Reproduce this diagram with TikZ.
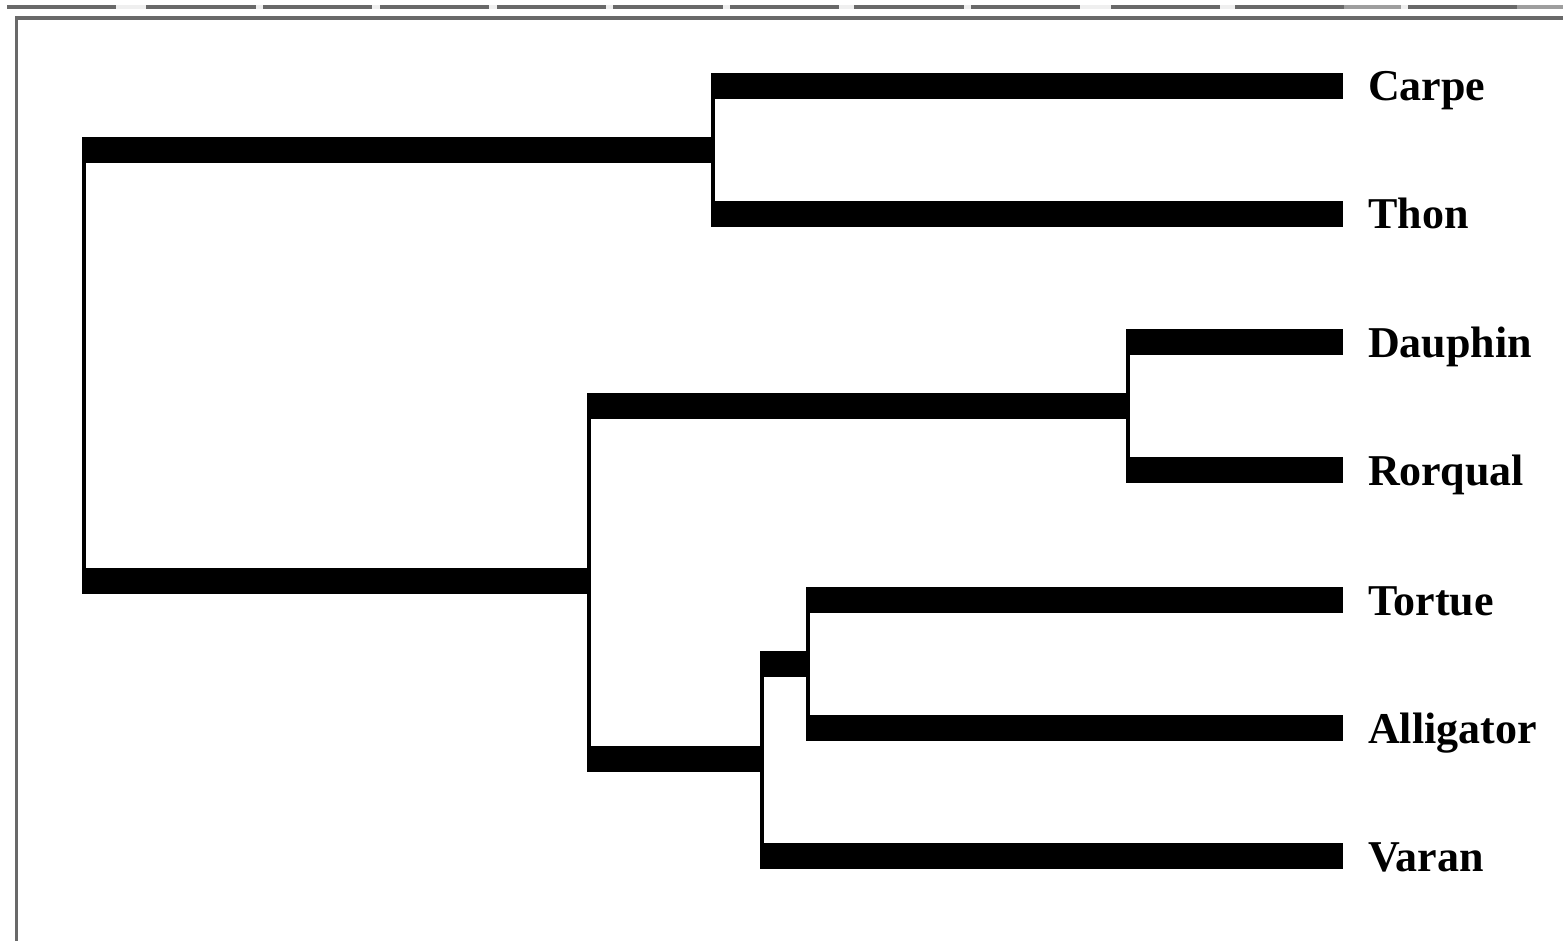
\documentclass[tikz,border=0pt]{standalone}
\usepackage{fontspec}
\setmainfont{Liberation Serif}
\usepackage{tikz}
\usetikzlibrary{calc,positioning}
\usepackage{xcolor}
\definecolor{TreeInk}{HTML}{000000}
\definecolor{FrameGray}{HTML}{696969}
\definecolor{FrameMid}{HTML}{9E9E9E}
\definecolor{FrameLight}{HTML}{EFEFEF}

\begin{document}
\begin{tikzpicture}[
  x=1pt,y=-1pt,
  bar/.style={draw=TreeInk,line width=26pt,shorten <=-2pt},
  stem/.style={draw=TreeInk,line width=4pt},
  leaf/.style={anchor=west,inner xsep=25pt,inner ysep=0pt,
    text height=30pt,text depth=0pt,text=TreeInk,
    font=\bfseries\fontsize{44}{48}\selectfont},
  frame/.style={fill=FrameGray}
]
\useasboundingbox (0,0) rectangle (1563,941);

% window frame of the screenshot
\fill[FrameLight] (7,5) rectangle (1563,9);
\foreach \a/\b in {7/116,146/256,263/372,380/489,497/606,613/723,
                   730/839,854/964,971/1080,1111/1220,1235/1344,1408/1517}
  \fill[frame] (\a,5) rectangle (\b,9);
\foreach \a/\b in {1344/1401,1517/1563}
  \fill[FrameMid] (\a,5) rectangle (\b,9);
\fill[frame] (15,16) rectangle (1563,20);
\fill[frame] (15,16) rectangle (18,941);

% leaves
\node[leaf] (carpe) at (1343,86) {Carpe};
\node[leaf] (thon) at (1343,214) {Thon};
\node[leaf] (dauphin) at (1343,342) {Dauphin};
\node[leaf] (rorqual) at (1343,470) {Rorqual};
\node[leaf] (tortue) at (1343,600) {Tortue};
\node[leaf] (alligator) at (1343,728) {Alligator};
\node[leaf] (varan) at (1343,856) {Varan};

% internal nodes
\coordinate (fish) at (713,150);
\coordinate (whales) at (1128,406);
\coordinate (shell) at (808,664);
\coordinate (reptiles) at (762,759);
\coordinate (tetra) at (589,581);
\coordinate (root) at (84,365);

% fish
\draw[stem] (fish |- carpe.west) -- (fish |- thon.west);
\draw[bar] (fish |- carpe.west) -- (carpe.west);
\draw[bar] (fish |- thon.west) -- (thon.west);

% whales
\draw[stem] (whales |- dauphin.west) -- (whales |- rorqual.west);
\draw[bar] (whales |- dauphin.west) -- (dauphin.west);
\draw[bar] (whales |- rorqual.west) -- (rorqual.west);

% tortue + alligator
\draw[stem] (shell |- tortue.west) -- (shell |- alligator.west);
\draw[bar] (shell |- tortue.west) -- (tortue.west);
\draw[bar] (shell |- alligator.west) -- (alligator.west);

% reptiles
\draw[stem] (reptiles |- shell) -- (reptiles |- varan.west);
\draw[bar] (reptiles |- shell) -- (shell);
\draw[bar] (reptiles |- varan.west) -- (varan.west);

% tetrapods
\draw[stem] (tetra |- whales) -- (tetra |- reptiles);
\draw[bar] (tetra |- whales) -- (whales);
\draw[bar] (tetra |- reptiles) -- (reptiles);

% root
\draw[stem] (root |- fish) -- (root |- tetra);
\draw[bar] (root |- fish) -- (fish);
\draw[bar] (root |- tetra) -- (tetra);

\end{tikzpicture}
\end{document}
